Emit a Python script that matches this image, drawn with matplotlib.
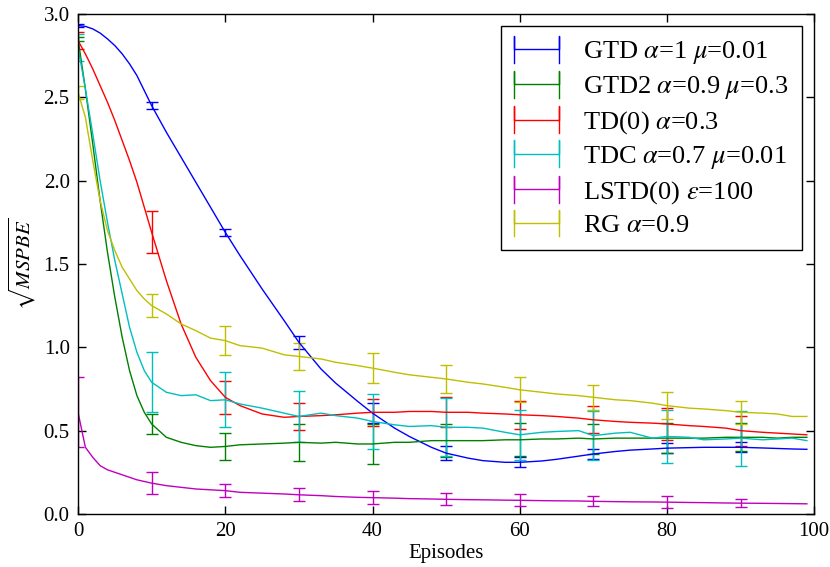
import numpy as np
import matplotlib
matplotlib.use("Agg")
import matplotlib.pyplot as plt
from matplotlib.lines import Line2D
from matplotlib.legend_handler import HandlerBase

plt.rcParams['font.family'] = ['Liberation Serif', 'DejaVu Serif']
plt.rcParams['mathtext.fontset'] = 'stix'

#%% data
episodes = [0, 1, 2, 3, 4, 5, 6, 7, 8, 9, 10, 12, 14, 16, 18, 20, 22, 25, 28, 30,
            33, 35, 38, 40, 43, 45, 48, 50, 53, 55, 58, 60, 63, 65, 68, 70, 73, 75,
            78, 80, 83, 85, 88, 90, 93, 95, 97, 99]

gtd = [2.93, 2.925, 2.91, 2.885, 2.85, 2.81, 2.76, 2.70, 2.63, 2.54, 2.45, 2.29, 2.14,
       1.99, 1.84, 1.69, 1.55, 1.35, 1.16, 1.03, 0.87, 0.785, 0.675, 0.605, 0.515, 0.465,
       0.40, 0.365, 0.335, 0.32, 0.31, 0.31, 0.318, 0.328, 0.347, 0.36, 0.375, 0.383, 0.39,
       0.395, 0.398, 0.40, 0.40, 0.40, 0.396, 0.393, 0.39, 0.388]

gtd2 = [2.85, 2.55, 2.22, 1.88, 1.57, 1.30, 1.06, 0.86, 0.71, 0.61, 0.54, 0.46, 0.43,
        0.41, 0.40, 0.405, 0.415, 0.42, 0.425, 0.43, 0.425, 0.43, 0.42, 0.42, 0.43, 0.43,
        0.44, 0.44, 0.44, 0.44, 0.445, 0.445, 0.45, 0.45, 0.455, 0.45, 0.455, 0.455,
        0.455, 0.455, 0.455, 0.455, 0.46, 0.46, 0.46, 0.455, 0.46, 0.46]

td0 = [2.84, 2.76, 2.67, 2.57, 2.47, 2.36, 2.24, 2.12, 1.99, 1.84, 1.69, 1.40, 1.14,
       0.94, 0.80, 0.70, 0.65, 0.60, 0.58, 0.585, 0.59, 0.595, 0.605, 0.61, 0.61, 0.615,
       0.615, 0.61, 0.61, 0.605, 0.60, 0.595, 0.59, 0.585, 0.575, 0.565, 0.555, 0.55,
       0.545, 0.54, 0.53, 0.525, 0.515, 0.50, 0.49, 0.485, 0.48, 0.475]

tdc = [2.80, 2.55, 2.28, 2.00, 1.75, 1.52, 1.32, 1.12, 0.97, 0.86, 0.79, 0.73, 0.71,
       0.715, 0.68, 0.685, 0.66, 0.635, 0.605, 0.585, 0.605, 0.59, 0.575, 0.555, 0.535,
       0.525, 0.53, 0.52, 0.52, 0.515, 0.49, 0.475, 0.49, 0.495, 0.50, 0.47, 0.485,
       0.49, 0.455, 0.465, 0.46, 0.445, 0.45, 0.455, 0.445, 0.45, 0.455, 0.44]

lstd = [0.61, 0.40, 0.34, 0.29, 0.265, 0.25, 0.235, 0.22, 0.205, 0.195, 0.185, 0.17,
        0.16, 0.15, 0.145, 0.14, 0.13, 0.125, 0.12, 0.115, 0.11, 0.105, 0.10, 0.098,
        0.095, 0.092, 0.09, 0.088, 0.086, 0.085, 0.083, 0.082, 0.08, 0.079, 0.078,
        0.076, 0.074, 0.073, 0.072, 0.071, 0.069, 0.068, 0.066, 0.065, 0.064, 0.063,
        0.062, 0.061]

rg = [2.53, 2.38, 2.12, 1.88, 1.70, 1.58, 1.48, 1.41, 1.34, 1.29, 1.25, 1.20, 1.14,
      1.10, 1.055, 1.04, 1.01, 0.995, 0.955, 0.945, 0.93, 0.91, 0.89, 0.875, 0.85,
      0.835, 0.82, 0.81, 0.79, 0.78, 0.76, 0.745, 0.73, 0.72, 0.71, 0.70, 0.685, 0.68,
      0.665, 0.65, 0.635, 0.63, 0.62, 0.61, 0.605, 0.60, 0.585, 0.585]

# error bar half widths at episodes 0, 10, ..., 90
err_episodes = [0, 10, 20, 30, 40, 50, 60, 70, 80, 90]
gtd_err = [0.01, 0.02, 0.02, 0.04, 0.06, 0.04, 0.03, 0.03, 0.03, 0.03]
gtd2_err = [0.01, 0.06, 0.08, 0.11, 0.12, 0.10, 0.10, 0.09, 0.09, 0.085]
td0_err = [0.05, 0.125, 0.10, 0.08, 0.08, 0.09, 0.085, 0.08, 0.095, 0.09]
tdc_err = [0.08, 0.18, 0.165, 0.155, 0.165, 0.175, 0.15, 0.145, 0.16, 0.165]
lstd_err = [0.21, 0.065, 0.04, 0.04, 0.04, 0.035, 0.035, 0.03, 0.035, 0.025]
rg_err = [0.04, 0.07, 0.085, 0.08, 0.09, 0.085, 0.075, 0.075, 0.08, 0.07]

labels = [r'GTD $\alpha$=1 $\mu$=0.01', r'GTD2 $\alpha$=0.9 $\mu$=0.3',
          r'TD(0) $\alpha$=0.3', r'TDC $\alpha$=0.7 $\mu$=0.01',
          r'LSTD(0) $\epsilon$=100', r'RG $\alpha$=0.9']
colors = [(0, 0, 1), (0, 0.5, 0), (1, 0, 0), (0, 0.75, 0.75), (0.75, 0, 0.75), (0.75, 0.75, 0)]


#%% legend handle: line with caps at both ends
class HandlerCapLine(HandlerBase):
    def create_artists(self, legend, orig_handle, xdescent, ydescent, width, height,
                       fontsize, trans):
        c = orig_handle.get_color()
        x0, x1 = -xdescent, -xdescent + width
        y = -ydescent + height / 2.
        h = 0.73 * height
        line = Line2D([x0, x0, x0, x1, x1, x1], [y - h, y + h, y, y, y + h, y - h],
                      color=c, lw=1)
        line.set_transform(trans)
        return [line]


#%% plot
fig = plt.figure(figsize=(8.3, 5.67), dpi=100)
ax = fig.add_axes([0.094, 0.0935, 0.887, 0.882])

x = np.array(episodes)
mask = np.isin(x, err_episodes)
series = [gtd, gtd2, td0, tdc, lstd, rg]
errs = [gtd_err, gtd2_err, td0_err, tdc_err, lstd_err, rg_err]
proxies = []
for y, e, c, lab in zip(series, errs, colors, labels):
    full_err = np.zeros(len(x))
    full_err[mask] = e
    ax.errorbar(x, y, yerr=full_err, errorevery=mask, color=c, lw=1, elinewidth=1,
                capsize=4.3, capthick=1)
    proxies.append(Line2D([], [], color=c, label=lab))

ax.set_xlim(0, 100)
ax.set_ylim(0, 3.0)
ax.set_xticks(np.arange(0, 101, 20))
ax.set_yticks(np.arange(0, 3.01, 0.5))
ax.tick_params(direction='in', top=True, right=True, length=5.5, width=1,
               labelsize=15, pad=6)
for sp in ax.spines.values():
    sp.set_linewidth(1)
ax.set_xlabel('Episodes', fontsize=15, labelpad=2)
ax.set_ylabel(r'$\sqrt{MSPBE}$', fontsize=15, labelpad=4)

leg = ax.legend(handles=proxies, loc='upper right', fontsize=19, fancybox=False,
                framealpha=1, edgecolor='black', handlelength=1.7, handletextpad=0.9,
                borderaxespad=0.47, borderpad=0.5, labelspacing=0.3,
                handler_map={Line2D: HandlerCapLine()})
leg.get_frame().set_linewidth(1)

fig.savefig('out.png', dpi=100)
